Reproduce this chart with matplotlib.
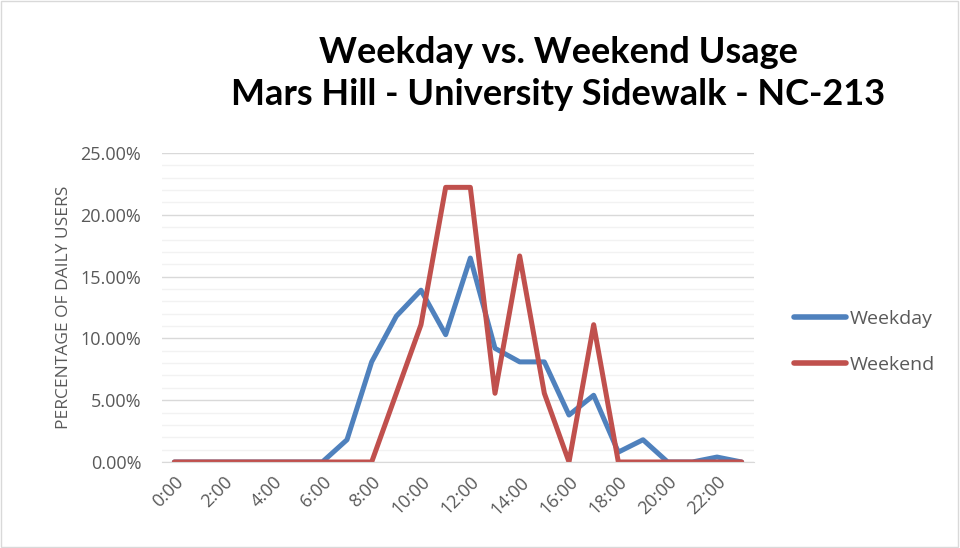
import matplotlib
matplotlib.use("Agg")
import matplotlib.pyplot as plt
from matplotlib.ticker import MultipleLocator, FuncFormatter
from matplotlib.patches import Rectangle

hours = list(range(24))
hour_labels = [f"{h}:00" for h in hours]
weekday = [0, 0, 0, 0, 0, 0, 0, 1.8, 8.1, 11.8, 13.9, 10.3, 16.5, 9.2,
           8.1, 8.1, 3.8, 5.4, 0.8, 1.8, 0, 0, 0.4, 0]
weekend = [0, 0, 0, 0, 0, 0, 0, 0, 0, 5.56, 11.11, 22.22, 22.22, 5.56,
           16.67, 5.56, 0, 11.11, 0, 0, 0, 0, 0, 0]

title = "Weekday vs. Weekend Usage\nMars Hill - University Sidewalk - NC-213"
ylabel = "PERCENTAGE OF DAILY USERS"

fig = plt.figure(figsize=(9.6, 5.48), dpi=100)
fig.patches.append(Rectangle((0.001, 0.002), 0.997, 0.996, transform=fig.transFigure,
                             fill=False, edgecolor="#d9d9d9", linewidth=1))
ax = fig.add_axes([162/960, 1-462/548, (754-162)/960, (462-153)/548])

ax.plot(hours, weekday, color="#4F81BD", linewidth=3.6, label="Weekday",
        solid_joinstyle="round", solid_capstyle="round")
ax.plot(hours, weekend, color="#C0504D", linewidth=3.6, label="Weekend",
        solid_joinstyle="round", solid_capstyle="round")

ax.set_xlim(-0.5, 23.5)
ax.set_ylim(0, 25)
ax.yaxis.set_major_locator(MultipleLocator(5))
ax.yaxis.set_minor_locator(MultipleLocator(1))
ax.yaxis.set_major_formatter(FuncFormatter(lambda v, p: f"{v:.2f}%"))
ax.set_xticks(hours[::2])
ax.set_xticklabels(hour_labels[::2], rotation=45, ha="right", rotation_mode="anchor")
ax.grid(which="major", axis="y", color="#d9d9d9", linewidth=1)
ax.grid(which="minor", axis="y", color="#f2f2f2", linewidth=1)
ax.set_axisbelow(True)
for s in ["top", "right", "left"]:
    ax.spines[s].set_visible(False)
ax.spines["bottom"].set_color("#d9d9d9")
ax.tick_params(axis="both", which="both", length=0, colors="#595959", labelsize=13)
ax.tick_params(axis="y", pad=15)
ax.tick_params(axis="x", pad=8)
for lab in ax.get_xticklabels() + ax.get_yticklabels():
    lab.set_fontfamily("Open Sans")
ax.set_ylabel(ylabel, color="#595959", fontsize=12.5, fontfamily="Open Sans", labelpad=6)

fig.text(558/960, 1-36/548, title, ha="center", va="top", fontsize=26,
         fontweight="bold", fontfamily="Lato", linespacing=1.35, color="black")

leg = fig.legend(loc="upper left", bbox_to_anchor=(776/960, 1-292/548), frameon=False,
                 handlelength=2.7, handletextpad=0.2, labelspacing=1.45,
                 prop={"family": "Open Sans", "size": 14})
for t in leg.get_texts():
    t.set_color("#595959")
for l in leg.get_lines():
    l.set_linewidth(4)

fig.savefig("out.png", dpi=100)
